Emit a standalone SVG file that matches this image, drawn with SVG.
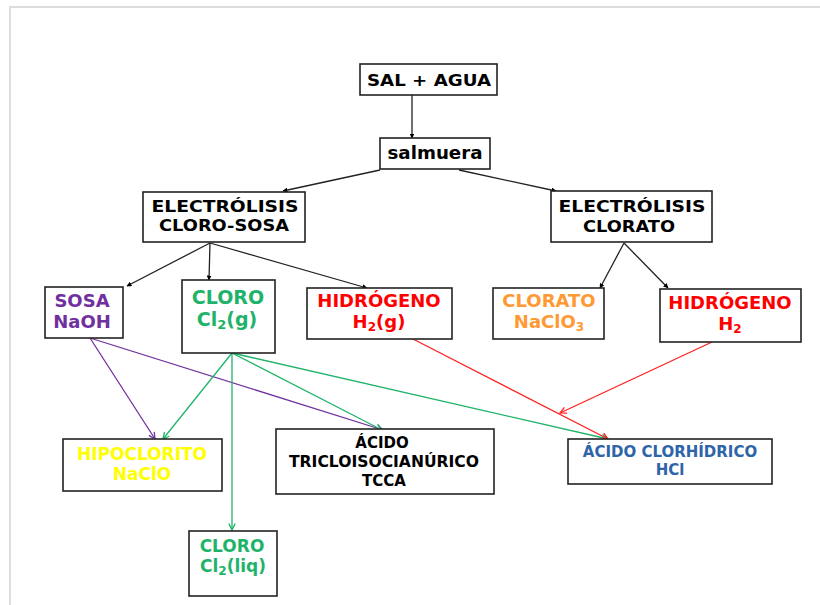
<svg xmlns="http://www.w3.org/2000/svg" width="820" height="605" viewBox="0 0 820 605">
<defs>
<marker id="ab" viewBox="0 0 10 10" refX="9" refY="5" markerWidth="5" markerHeight="5" orient="auto" markerUnits="userSpaceOnUse"><path d="M0,0 L10,5 L0,10 Z" fill="#000"/></marker>
<marker id="ap" viewBox="0 0 10 10" refX="9" refY="5" markerWidth="8" markerHeight="8" orient="auto" markerUnits="userSpaceOnUse"><path d="M1,1 L9,5 L1,9" fill="none" stroke="#7030A0" stroke-width="1.6"/></marker>
<marker id="ag" viewBox="0 0 10 10" refX="9" refY="5" markerWidth="8" markerHeight="8" orient="auto" markerUnits="userSpaceOnUse"><path d="M1,1 L9,5 L1,9" fill="none" stroke="#1FB36A" stroke-width="1.6"/></marker>
<marker id="ar" viewBox="0 0 10 10" refX="9" refY="5" markerWidth="8" markerHeight="8" orient="auto" markerUnits="userSpaceOnUse"><path d="M1,1 L9,5 L1,9" fill="none" stroke="#FF2020" stroke-width="1.6"/></marker>
</defs>
<style>
.box{fill:#fff;stroke:#222;stroke-width:1.6}
text{font-family:"DejaVu Sans","Verdana",sans-serif;font-weight:bold;text-anchor:middle}
.k{fill:#000}
.bk{stroke:#222;stroke-width:1.3;fill:none;marker-end:url(#ab)}
.pu{stroke:#7030A0;stroke-width:1.3;fill:none;marker-end:url(#ap)}
.gr{stroke:#1FB36A;stroke-width:1.3;fill:none;marker-end:url(#ag)}
.rd{stroke:#FF2020;stroke-width:1.3;fill:none;marker-end:url(#ar)}
</style>
<rect width="820" height="605" fill="#fff"/>
<path d="M10,605 V7 H820" fill="none" stroke="#dcdcdc" stroke-width="2"/>

<g id="connectors">
<line class="bk" x1="412" y1="95" x2="412" y2="138"/>
<line class="bk" x1="380" y1="170" x2="283" y2="191"/>
<line class="bk" x1="459" y1="170" x2="556" y2="191"/>
<line class="bk" x1="210" y1="243" x2="127" y2="286"/>
<line class="bk" x1="210" y1="243" x2="209" y2="280"/>
<line class="bk" x1="210" y1="243" x2="367" y2="288"/>
<line class="bk" x1="624" y1="243" x2="600" y2="288"/>
<line class="bk" x1="624" y1="243" x2="668" y2="288"/>
<line class="pu" x1="90" y1="338" x2="155" y2="439"/>
<line class="pu" x1="90" y1="338" x2="383" y2="430"/>
<line class="gr" x1="232" y1="353" x2="163" y2="439"/>
<line class="gr" x1="232" y1="353" x2="382" y2="430"/>
<line class="gr" x1="232" y1="353" x2="232" y2="530"/>
<line class="gr" x1="232" y1="353" x2="608" y2="439"/>
<line class="rd" x1="413" y1="339" x2="608" y2="439"/>
<line class="rd" x1="712" y1="342" x2="560" y2="413"/>
</g>

<g id="sal-agua"><rect class="box" x="360" y="64" width="137" height="31"/><text class="k" x="429" y="86" font-size="16" textLength="124" lengthAdjust="spacingAndGlyphs">SAL + AGUA</text></g>
<g id="salmuera"><rect class="box" x="380" y="138" width="110" height="31"/><text class="k" x="435" y="159" font-size="17" textLength="95" lengthAdjust="spacingAndGlyphs">salmuera</text></g>
<g id="electrolisis-cloro-sosa"><rect class="box" x="143" y="192" width="162" height="50"/><text class="k" x="225" y="212" font-size="16" textLength="147" lengthAdjust="spacingAndGlyphs">ELECTRÓLISIS</text><text class="k" x="224" y="231" font-size="16" textLength="130" lengthAdjust="spacingAndGlyphs">CLORO-SOSA</text></g>
<g id="electrolisis-clorato"><rect class="box" x="551" y="191" width="161" height="51"/><text class="k" x="632" y="212" font-size="16" textLength="147" lengthAdjust="spacingAndGlyphs">ELECTRÓLISIS</text><text class="k" x="629" y="232" font-size="16" textLength="92" lengthAdjust="spacingAndGlyphs">CLORATO</text></g>

<g id="sosa"><rect class="box" x="45" y="287" width="78" height="51"/><text x="82" y="307" font-size="18" fill="#7030A0">SOSA</text><text x="82" y="328" font-size="18" fill="#7030A0">NaOH</text></g>
<g id="cloro-gas"><rect class="box" x="182" y="280" width="93" height="73"/><text x="228" y="304" font-size="19" fill="#1FB36A">CLORO</text><text x="227" y="326" font-size="19" fill="#1FB36A">Cl<tspan font-size="13" dy="3">2</tspan><tspan dy="-3">(g)</tspan></text></g>
<g id="hidrogeno-g"><rect class="box" x="307" y="288" width="145" height="51"/><text x="379" y="307" font-size="18" fill="#FF0000">HIDRÓGENO</text><text x="379" y="328" font-size="18" fill="#FF0000">H<tspan font-size="12" dy="3">2</tspan><tspan dy="-3">(g)</tspan></text></g>
<g id="clorato"><rect class="box" x="493" y="288" width="111" height="51"/><text x="549" y="307" font-size="18" fill="#FF9933">CLORATO</text><text x="549" y="328" font-size="18" fill="#FF9933">NaClO<tspan font-size="12" dy="3">3</tspan></text></g>
<g id="hidrogeno"><rect class="box" x="660" y="289" width="141" height="53"/><text x="730" y="309" font-size="18" fill="#FF0000">HIDRÓGENO</text><text x="730" y="330" font-size="18" fill="#FF0000">H<tspan font-size="12" dy="3">2</tspan></text></g>

<g id="hipoclorito"><rect class="box" x="63" y="439" width="159" height="52"/><text x="142" y="460" font-size="17" fill="#FFFF00">HIPOCLORITO</text><text x="142" y="480" font-size="17" fill="#FFFF00">NaClO</text></g>
<g id="tcca"><rect class="box" x="276" y="429" width="218" height="65"/><text class="k" x="382" y="448" font-size="15">ÁCIDO</text><text class="k" x="384" y="467" font-size="15" textLength="190" lengthAdjust="spacingAndGlyphs">TRICLOISOCIANÚRICO</text><text class="k" x="384" y="486" font-size="15">TCCA</text></g>
<g id="cloro-liq"><rect class="box" x="189" y="531" width="88" height="65"/><text x="232" y="552" font-size="17" fill="#1FB36A">CLORO</text><text x="233" y="572" font-size="17" fill="#1FB36A">Cl<tspan font-size="12" dy="3">2</tspan><tspan dy="-3">(liq)</tspan></text></g>
<g id="hcl"><rect class="box" x="568" y="439" width="204" height="45"/><text x="670" y="457" font-size="15" fill="#2E64A8">ÁCIDO CLORHÍDRICO</text><text x="670" y="475" font-size="15" fill="#2E64A8">HCl</text></g>
</svg>
